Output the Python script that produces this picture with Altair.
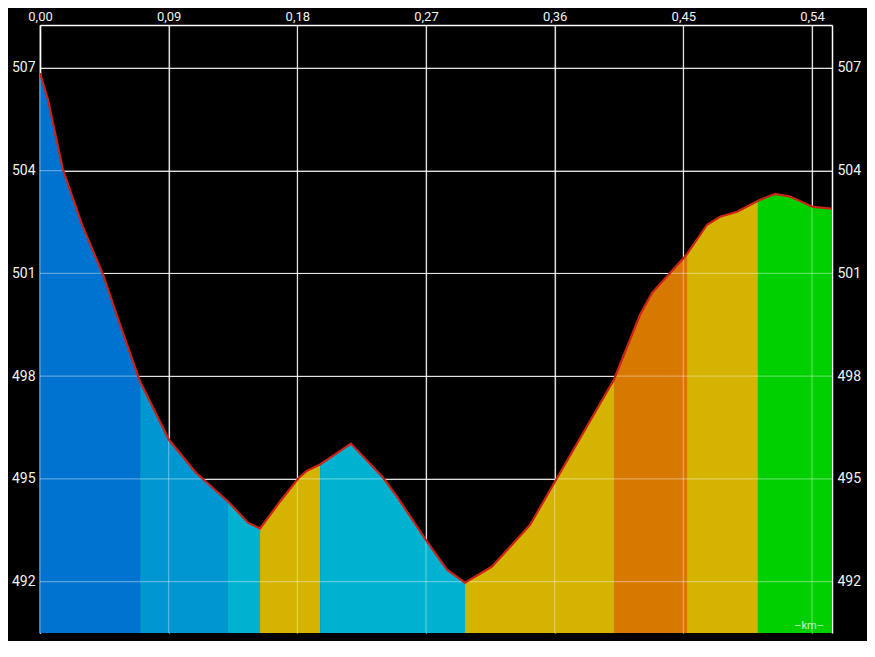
import altair as alt
import pandas as pd

# Elevation profile
dist_km = [0.0000, 0.0056, 0.0161, 0.0294, 0.0441, 0.0560, 0.0700, 0.0902, 0.1091,
           0.1315, 0.1455, 0.1539, 0.1679, 0.1812, 0.1868, 0.1959, 0.2175, 0.2399,
           0.2497, 0.2707, 0.2847, 0.2973, 0.3162, 0.3428, 0.4015, 0.4197, 0.4281,
           0.4505, 0.4526, 0.4666, 0.4757, 0.4876, 0.5022, 0.5141, 0.5246, 0.5407,
           0.5540]
elev_m = [506.85, 506.07, 504.02, 502.42, 500.96, 499.50, 497.84, 496.14, 495.18,
          494.34, 493.72, 493.55, 494.34, 495.04, 495.24, 495.42, 496.03, 495.04,
          494.48, 493.17, 492.35, 491.97, 492.44, 493.66, 497.90, 499.79, 500.43,
          501.46, 501.57, 502.42, 502.65, 502.80, 503.12, 503.32, 503.24, 502.94,
          502.89]

# Gradient-coloured sections
seg_bounds = [0.0000, 0.0700, 0.1315, 0.1539, 0.1959, 0.2973, 0.4015, 0.4526, 0.5022, 0.5540]
seg_colors = ["#0073d0", "#0096d2", "#00b2d0", "#d4b400", "#00b2d0",
              "#d4b400", "#d77800", "#d4b400", "#00d000"]

x_ticks = [0.00, 0.09, 0.18, 0.27, 0.36, 0.45, 0.54]
y_ticks = [492, 495, 498, 501, 504, 507]

x_domain = [0, 0.554]
y_domain = [490.5, 508.25]

profile = pd.DataFrame({"d": dist_km, "e": elev_m})

rows = []
for i in range(len(seg_colors)):
    lo, hi = seg_bounds[i], seg_bounds[i + 1]
    for d, e in zip(dist_km, elev_m):
        if lo - 1e-9 <= d <= hi + 1e-9:
            rows.append({"d": d, "e": e, "seg": f"s{i}"})
segs = pd.DataFrame(rows)

font = "Roboto"
fs = 14

x_scale = alt.Scale(domain=x_domain, nice=False, zero=False)
y_scale = alt.Scale(domain=y_domain, nice=False, zero=False)

x_axis = alt.Axis(orient="top", values=x_ticks, title=None, ticks=False,
                  labelExpr="replace(format(datum.value, '.2f'), '.', ',')",
                  grid=True, gridColor="white", gridOpacity=0.85, gridWidth=1.2,
                  domain=True, domainColor="white", domainWidth=1.5,
                  labelColor="#f2f2f2", labelFontSize=13, labelFont=font,
                  labelPadding=2, labelFlush=False, labelBound=False,
                  labelOverlap=False)

x_enc = alt.X("d:Q", scale=x_scale, axis=x_axis)

area = alt.Chart(segs).mark_area(interpolate="linear", clip=True).encode(
    x=x_enc,
    y=alt.Y("e:Q", scale=y_scale, stack=None,
            axis=alt.Axis(orient="left", values=y_ticks, title=None, ticks=False,
                          format="d", grid=True, gridColor="white", gridOpacity=0.85,
                          gridWidth=1.2, domain=True, domainColor="white", domainWidth=1.5,
                          labelColor="#f2f2f2", labelFontSize=fs, labelFont=font,
                          labelPadding=5, labelOverlap=False)),
    y2=alt.Y2(datum=y_domain[0]),
    color=alt.Color("seg:N", scale=alt.Scale(domain=[f"s{i}" for i in range(len(seg_colors))],
                                              range=seg_colors), legend=None),
    detail="seg:N",
)

vgrid = alt.Chart(pd.DataFrame({"d": x_ticks})).mark_rule(
    color="white", opacity=0.35, strokeWidth=1.2).encode(x=x_enc)

hgrid = alt.Chart(pd.DataFrame({"e": y_ticks})).mark_rule(
    color="white", opacity=0.35, strokeWidth=1.2).encode(
    y=alt.Y("e:Q", scale=y_scale, axis=None))

line = alt.Chart(profile).mark_line(color="#cc2218", strokeWidth=2.2, clip=True).encode(
    x=x_enc,
    y=alt.Y("e:Q", scale=y_scale,
            axis=alt.Axis(orient="right", values=y_ticks, title=None, ticks=False,
                          format="d", grid=False, domain=True, domainColor="white",
                          domainWidth=1.5, labelColor="#f2f2f2", labelFontSize=fs,
                          labelFont=font, labelPadding=5, labelOverlap=False)),
    order="d:Q",
)

km = alt.Chart(pd.DataFrame({"lbl": ["–km–"]})).mark_text(
    align="right", baseline="bottom", dx=-8, dy=-2, color="white", opacity=0.75,
    fontSize=11, font=font).encode(
    x=alt.X(datum=x_domain[1], scale=x_scale, axis=x_axis),
    y=alt.Y(datum=y_domain[0], scale=y_scale, axis=None),
    text="lbl:N",
)

chart = alt.layer(area, vgrid, hgrid, line, km).resolve_scale(
    y="shared", x="shared").resolve_axis(y="independent").properties(
    width=792, height=608, background="black",
    autosize=alt.AutoSizeParams(type="none"),
    padding={"left": 32, "top": 17, "right": 35, "bottom": 8},
).configure_view(strokeWidth=0)

chart.save("out.html", embed_options={"renderer": "svg", "actions": False})
